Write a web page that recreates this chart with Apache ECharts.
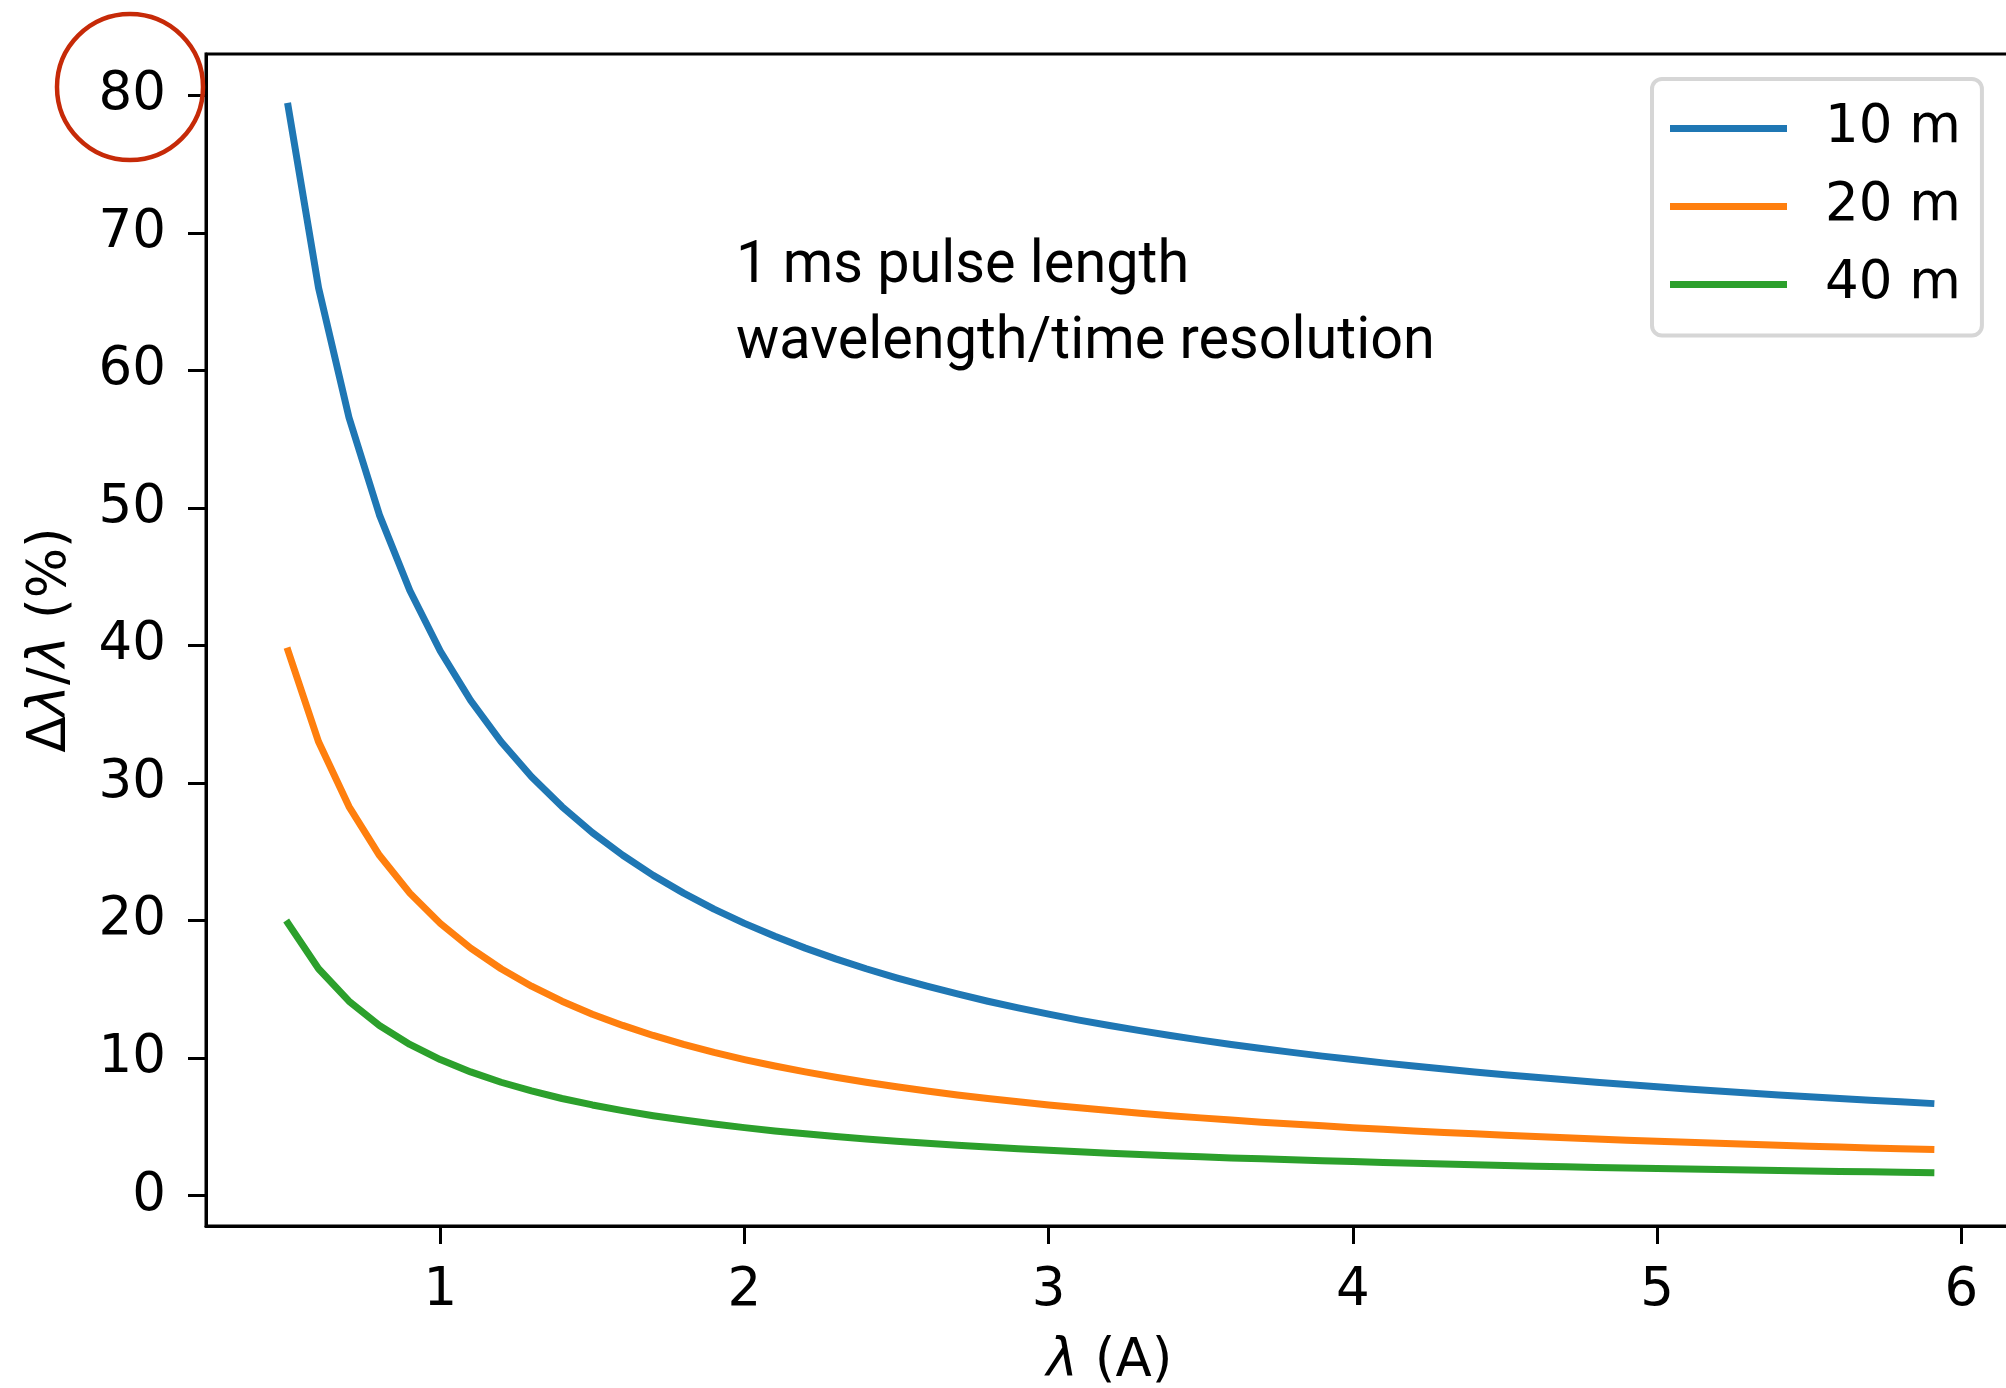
<!DOCTYPE html>
<html>
<head>
<meta charset="utf-8">
<script src="https://cdn.jsdelivr.net/npm/echarts@6/dist/echarts.min.js"></script>
<style>
  html, body { margin: 0; padding: 0; background: #fff; }
  #chart { width: 2006px; height: 1388px; }
</style>
</head>
<body>
<div id="chart"></div>
<script>
// Wavelength (Å)
const wavelength = [
  0.5, 0.6, 0.7, 0.8, 0.9, 1.0, 1.1, 1.2, 1.3, 1.4,
  1.5, 1.6, 1.7, 1.8, 1.9, 2.0, 2.1, 2.2, 2.3, 2.4,
  2.5, 2.6, 2.7, 2.8, 2.9, 3.0, 3.1, 3.2, 3.3, 3.4,
  3.5, 3.6, 3.7, 3.8, 3.9, 4.0, 4.1, 4.2, 4.3, 4.4,
  4.5, 4.6, 4.7, 4.8, 4.9, 5.0, 5.1, 5.2, 5.3, 5.4,
  5.5, 5.6, 5.7, 5.8, 5.9
];

// Relative wavelength resolution Δλ/λ (%) for each flight path
const res10m = [
  79.20, 66.00, 56.57, 49.50, 44.00, 39.60, 36.00, 33.00, 30.46, 28.29,
  26.40, 24.75, 23.29, 22.00, 20.84, 19.80, 18.86, 18.00, 17.22, 16.50,
  15.84, 15.23, 14.67, 14.14, 13.66, 13.20, 12.77, 12.38, 12.00, 11.65,
  11.31, 11.00, 10.70, 10.42, 10.15, 9.90, 9.66, 9.43, 9.21, 9.00,
  8.80, 8.61, 8.43, 8.25, 8.08, 7.92, 7.76, 7.62, 7.47, 7.33,
  7.20, 7.07, 6.95, 6.83, 6.71
];
const res20m = [
  39.60, 33.00, 28.29, 24.75, 22.00, 19.80, 18.00, 16.50, 15.23, 14.14,
  13.20, 12.38, 11.65, 11.00, 10.42, 9.90, 9.43, 9.00, 8.61, 8.25,
  7.92, 7.62, 7.33, 7.07, 6.83, 6.60, 6.39, 6.19, 6.00, 5.82,
  5.66, 5.50, 5.35, 5.21, 5.08, 4.95, 4.83, 4.71, 4.60, 4.50,
  4.40, 4.30, 4.21, 4.13, 4.04, 3.96, 3.88, 3.81, 3.74, 3.67,
  3.60, 3.54, 3.47, 3.41, 3.36
];
const res40m = [
  19.80, 16.50, 14.14, 12.38, 11.00, 9.90, 9.00, 8.25, 7.62, 7.07,
  6.60, 6.19, 5.82, 5.50, 5.21, 4.95, 4.71, 4.50, 4.30, 4.13,
  3.96, 3.81, 3.67, 3.54, 3.41, 3.30, 3.19, 3.09, 3.00, 2.91,
  2.83, 2.75, 2.68, 2.61, 2.54, 2.48, 2.41, 2.36, 2.30, 2.25,
  2.20, 2.15, 2.11, 2.06, 2.02, 1.98, 1.94, 1.90, 1.87, 1.83,
  1.80, 1.77, 1.74, 1.71, 1.68
];

const seriesNames = ['10 m', '20 m', '40 m'];
const seriesColors = ['#1f77b4', '#ff7f0e', '#2ca02c'];
const xTicks = [1, 2, 3, 4, 5, 6];
const yTicks = [0, 10, 20, 30, 40, 50, 60, 70, 80];

const tickFont = 'DejaVu Sans';
const tickSize = 53;

function pairs(values) {
  return wavelength.map((w, i) => [w, values[i]]);
}

const chart = echarts.init(document.getElementById('chart'), null, { renderer: 'canvas' });

const makeSeries = (name, values, color) => ({
  name: name,
  type: 'line',
  data: pairs(values),
  showSymbol: false,
  symbol: 'none',
  smooth: false,
  animation: false,
  lineStyle: { color: color, width: 7, cap: 'square', join: 'round' },
  itemStyle: { color: color },
  z: 3
});

chart.setOption({
  animation: false,
  backgroundColor: '#ffffff',
  grid: {
    // the right spine sits just beyond the canvas edge
    left: 206, top: 54, right: -7, bottom: 162,
    outerBoundsMode: 'none',
    show: true, borderColor: '#000', borderWidth: 3, backgroundColor: 'transparent',
    containLabel: false
  },
  xAxis: {
    type: 'value',
    min: 0.23, max: 6.17,
    name: '{i|λ}{n| (A)}',
    nameLocation: 'middle',
    nameGap: 110,
    nameTextStyle: {
      rich: {
        i: { fontFamily: tickFont, fontSize: tickSize, fontStyle: 'italic', color: '#000' },
        n: { fontFamily: tickFont, fontSize: tickSize, color: '#000' }
      }
    },
    splitLine: { show: false },
    axisLine: { show: true, onZero: false, lineStyle: { color: '#000', width: 3 } },
    axisTick: { show: true, inside: false, length: 18, lineStyle: { color: '#000', width: 3 }, customValues: xTicks },
    axisLabel: { show: true, margin: 39, fontFamily: tickFont, fontSize: tickSize, color: '#000', customValues: xTicks }
  },
  yAxis: {
    type: 'value',
    min: -2.2, max: 83,
    name: '{n|Δ}{i|λ}{n|/}{i|λ}{n| (%)}',
    nameLocation: 'middle',
    nameRotate: 90,
    nameGap: 128,
    nameTextStyle: {
      rich: {
        i: { fontFamily: tickFont, fontSize: tickSize, fontStyle: 'italic', color: '#000' },
        n: { fontFamily: tickFont, fontSize: tickSize, color: '#000' }
      }
    },
    splitLine: { show: false },
    axisLine: { show: true, onZero: false, lineStyle: { color: '#000', width: 3 } },
    axisTick: { show: true, inside: false, length: 18, lineStyle: { color: '#000', width: 3 }, customValues: yTicks },
    axisLabel: { show: true, margin: 40, fontFamily: tickFont, fontSize: tickSize, color: '#000', customValues: yTicks }
  },
  legend: {
    orient: 'vertical',
    left: 1652, top: 79,
    padding: [19.5, 21, 21, 18],
    itemGap: 18,
    itemWidth: 117,
    itemHeight: 7,
    icon: 'rect',
    backgroundColor: '#fff',
    borderColor: '#d6d6d6',
    borderWidth: 4,
    borderRadius: 10,
    data: seriesNames,
    textStyle: { fontFamily: tickFont, fontSize: tickSize, color: '#000', lineHeight: 60, padding: [0, 0, 0, 33] }
  },
  series: [
    makeSeries(seriesNames[0], res10m, seriesColors[0]),
    makeSeries(seriesNames[1], res20m, seriesColors[1]),
    makeSeries(seriesNames[2], res40m, seriesColors[2])
  ],
  graphic: [
    {
      type: 'text',
      x: 736, y: 229,
      scaleX: 0.96,
      z: 10,
      style: {
        text: '1 ms pulse length\nwavelength/time resolution',
        font: '400 60px Roboto',
        lineHeight: 76,
        fill: '#000',
        textVerticalAlign: 'top'
      }
    },
    {
      type: 'circle',
      shape: { cx: 130, cy: 87, r: 73 },
      z: 20,
      style: { fill: 'none', stroke: '#c62a08', lineWidth: 4.5 }
    }
  ]
});
</script>
</body>
</html>
